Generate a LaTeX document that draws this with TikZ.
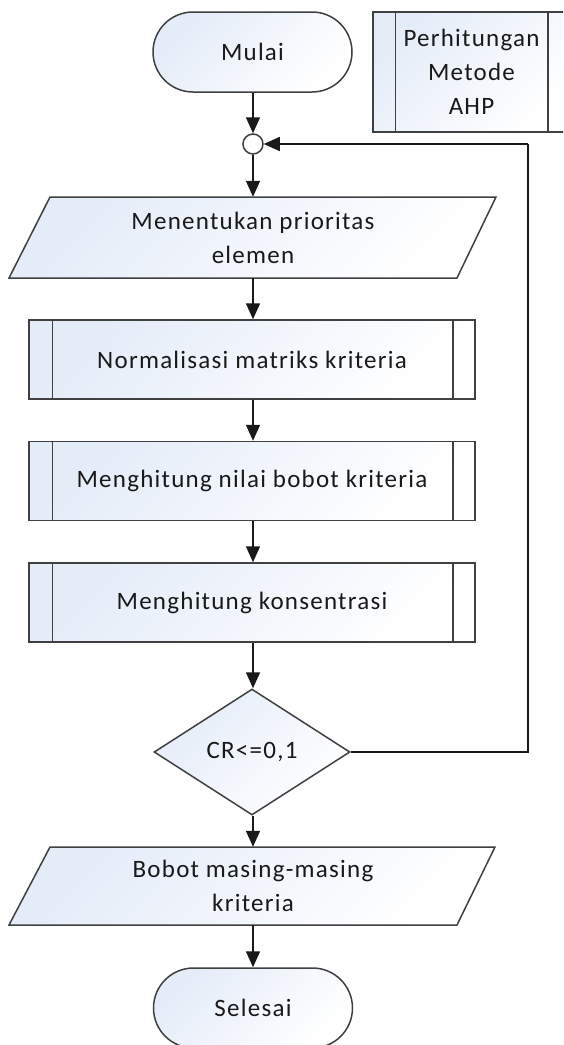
\documentclass[tikz,border=0pt]{standalone}
\usepackage{fontspec}
\setmainfont{Carlito}[LetterSpace=5]
\usetikzlibrary{shapes.geometric,shapes.misc,arrows.meta,calc}
\definecolor{lightb}{RGB}{228,236,248}
\definecolor{edgec}{RGB}{64,64,64}
\definecolor{txt}{RGB}{25,25,25}
\begin{document}
\begin{tikzpicture}[x=1pt,y=-1pt,
  font=\fontsize{25}{34}\selectfont,
  every node/.style={text=txt,align=center,inner sep=0pt},
  shp/.style={draw=edgec,line width=1.5pt,left color=lightb,right color=white,shading angle=45},
  term/.style={shp,rounded rectangle,minimum width=199pt,minimum height=80pt},
  procbox/.style={shp,rectangle,minimum width=446pt,minimum height=79pt},
  iotext/.style={rectangle,minimum width=360pt,minimum height=80pt},
  decide/.style={shp,diamond,minimum width=196pt,minimum height=126pt},
  junc/.style={circle,draw=edgec,line width=1.5pt,fill=white,minimum size=20pt},
  conn/.style={draw=black!90,line width=1.6pt,-{Triangle[width=14pt,length=16pt]}},
  plain/.style={draw=black!90,line width=1.6pt}
]
\path[use as bounding box] (0,0) rectangle (563,1045);
\clip (0,0) rectangle (563,1045);

% Terminal start
\node[term] (mulai) at (252.5,52) {Mulai};

% AHP predefined process (cut at right)
\node[shp,rectangle,minimum width=197pt,minimum height=120pt] (ahp) at (471.5,72) {Perhitungan\\Metode\\AHP};
\draw[draw=edgec,line width=1.5pt] ([xshift=23pt]ahp.north west) -- ([xshift=23pt]ahp.south west);
\draw[draw=edgec,line width=1.5pt] ([xshift=-23pt]ahp.north east) -- ([xshift=-23pt]ahp.south east);

% Junction
\node[junc] (j) at (253,144) {};

% Parallelogram 1
\path[shp] (50,197) -- (496,197) -- (457,278) -- (9,278) -- cycle;
\node[iotext,minimum height=81pt] (p1) at (253,237.5) {Menentukan prioritas\\elemen};

% Process boxes
\node[procbox] (b1) at (252,359.5) {Normalisasi matriks kriteria};
\node[procbox] (b2) at (252,481) {Menghitung nilai bobot kriteria};
\node[procbox] (b3) at (252,602.5) {Menghitung konsentrasi};
\foreach \b in {b1,b2,b3}{
  \draw[draw=edgec,line width=1.5pt] ([xshift=24pt]\b.north west) -- ([xshift=24pt]\b.south west);
  \draw[draw=edgec,line width=1.5pt] ([xshift=-23pt]\b.north east) -- ([xshift=-23pt]\b.south east);
}

% Decision
\node[decide] (dec) at (252,752) {CR<=0,1};

% Parallelogram 2
\path[shp] (50,847) -- (495,847) -- (457,925) -- (9,925) -- cycle;
\node[iotext,minimum height=78pt] (p2) at (253,886) {Bobot masing-masing\\kriteria};

% Terminal end
\node[term] (sel) at (253,1008) {Selesai};

% Connectors
\draw[conn] (mulai.south -| j) -- (j.north);
\draw[conn] (j.south) -- (p1.north);
\draw[conn] (p1.south) -- (p1.south |- b1.north);
\draw[conn] (b1.south -| p1.south) -- (p1.south |- b2.north);
\draw[conn] (b2.south -| p1.south) -- (p1.south |- b3.north);
\draw[conn] (b3.south -| p1.south) -- (p1.south |- dec.north);
\draw[conn] (dec.south -| p2.north) -- (p2.north);
\draw[conn] (p2.south) -- (p2.south |- sel.north);
\coordinate (loop) at (528,144);
\draw[plain] (dec.east) -| (loop);
\draw[conn] (loop) -- (j.east);
\end{tikzpicture}
\end{document}
